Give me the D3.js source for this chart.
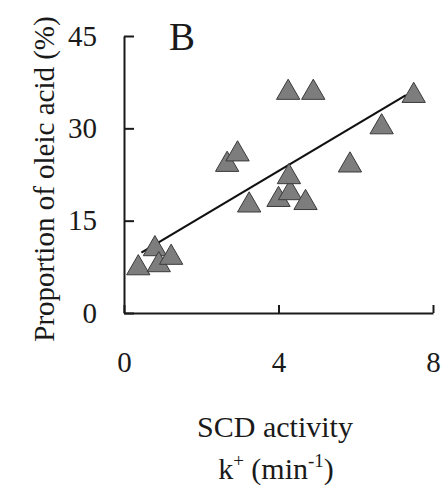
<!DOCTYPE html>
<html>
<head>
<meta charset="utf-8">
<script src="https://cdn.jsdelivr.net/npm/d3@7"></script>
<style>
  body { margin: 0; background: #fff; }
</style>
</head>
<body>
<div id="chart"></div>
<script>
// SCD activity vs oleic acid proportion (panel B)
const scdActivity = [0.37, 0.8, 0.9, 1.22, 2.67, 2.94, 3.24, 4.0, 4.3, 4.27, 4.7, 4.25, 4.9, 5.85, 6.67, 7.5];
const oleicPct    = [7.3, 10.4, 7.8, 9.0, 24.1, 25.8, 17.5, 18.4, 19.5, 22.1, 17.9, 35.8, 35.8, 24.0, 30.2, 35.3];
const fitLine     = [[0.45, 9.8], [7.3, 35.4]];
const xTicks = [0, 4, 8];
const yTicks = [0, 15, 30, 45];

const serif = "Liberation Serif";
const W = 441, H = 491;
const margin = {top: 36, left: 124};
const width = 433 - margin.left;
const height = 313 - margin.top;

const svg = d3.select("#chart").append("svg")
  .attr("width", W)
  .attr("height", H)
  .attr("font-family", serif);

const g = svg.append("g")
  .attr("transform", `translate(${margin.left}, ${margin.top})`);

const x = d3.scaleLinear().domain([0, 8]).range([0, width]);
const y = d3.scaleLinear().domain([0, 45]).range([height, 0]);

// axes (ticks point inward)
const xAxis = g.append("g")
  .attr("transform", `translate(0, ${height})`)
  .call(d3.axisBottom(x).tickValues(xTicks).tickSizeInner(-8).tickSizeOuter(0).tickPadding(38));
const yAxis = g.append("g")
  .call(d3.axisLeft(y).tickValues(yTicks).tickSizeInner(-10).tickSizeOuter(0).tickPadding(27));

[xAxis, yAxis].forEach(a => {
  a.attr("font-family", serif).attr("font-size", 29);
  a.select(".domain").attr("stroke", "#1a1a1a").attr("stroke-width", 2);
  a.selectAll(".tick line").attr("stroke", "#1a1a1a").attr("stroke-width", 2);
  a.selectAll("text").attr("fill", "#1a1a1a").attr("font-family", serif);
});

// regression line
g.append("line")
  .attr("x1", x(fitLine[0][0])).attr("y1", y(fitLine[0][1]))
  .attr("x2", x(fitLine[1][0])).attr("y2", y(fitLine[1][1]))
  .attr("stroke", "#111")
  .attr("stroke-width", 2.2);

// triangles
const tri = d3.symbol().type(d3.symbolTriangle).size(235);
g.selectAll(".pt")
  .data(scdActivity.map((v, i) => ({x: v, y: oleicPct[i]})))
  .enter()
  .append("path")
  .attr("class", "pt")
  .attr("d", tri)
  .attr("transform", d => `translate(${x(d.x)}, ${y(d.y)})`)
  .attr("fill", "#7d7d7d")
  .attr("stroke", "#3a3a3a")
  .attr("stroke-width", 1);

// panel letter
svg.append("text")
  .attr("x", 169)
  .attr("y", 50)
  .attr("font-family", serif)
  .attr("font-size", 39)
  .attr("fill", "#1a1a1a")
  .text("B");

// y title
svg.append("text")
  .attr("transform", "rotate(-90)")
  .attr("x", -179)
  .attr("y", 54)
  .attr("text-anchor", "middle")
  .attr("font-family", serif)
  .attr("font-size", 29)
  .attr("fill", "#1a1a1a")
  .text("Proportion of oleic acid (%)");

// x title
svg.append("text")
  .attr("x", 275)
  .attr("y", 437)
  .attr("text-anchor", "middle")
  .attr("font-family", serif)
  .attr("font-size", 30)
  .attr("fill", "#1a1a1a")
  .text("SCD activity");

const k = svg.append("text")
  .attr("x", 276)
  .attr("y", 479)
  .attr("text-anchor", "middle")
  .attr("font-family", serif)
  .attr("font-size", 30)
  .attr("fill", "#1a1a1a");
k.append("tspan").text("k");
k.append("tspan").attr("dy", -12).attr("font-size", 19).text("+");
k.append("tspan").attr("dy", 12).text(" (min");
k.append("tspan").attr("dy", -12).attr("font-size", 19).text("-1");
k.append("tspan").attr("dy", 12).text(")");
</script>
</body>
</html>
